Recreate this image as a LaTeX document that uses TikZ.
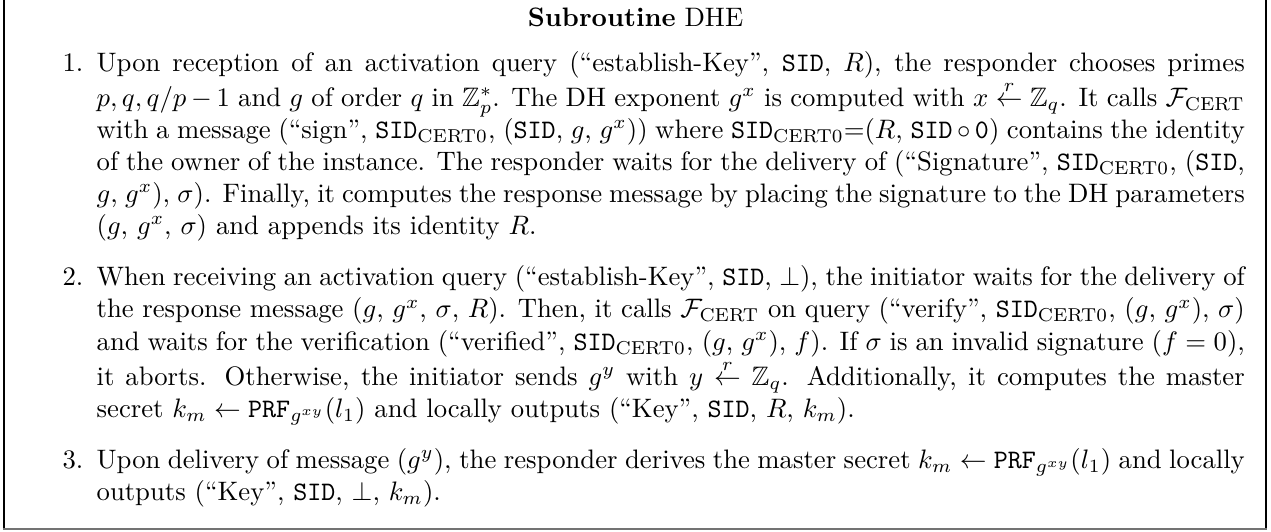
\documentclass[tikz,border=0pt]{standalone}
\usepackage{amsmath,amssymb}
\usetikzlibrary{positioning}

\newcommand{\sid}{\texttt{SID}}
\newcommand{\sidcert}{\texttt{SID}$_{\mathrm{CERT0}}$}
\newcommand{\fcert}{$\mathcal{F}_{\mathrm{CERT}}$}
\newcommand{\rndfrom}{\stackrel{r}{\leftarrow}}

\begin{document}
\begin{tikzpicture}
        % Define styles
        \tikzset{
            frame/.style={draw, line width=0.6pt},
            frameb/.style={draw=black!55, line width=0.9pt},
            heading/.style={inner sep=0pt, anchor=base},
            steps/.style={inner sep=0pt, anchor=base west}
        }
        % Page size (proportions of the original)
        \useasboundingbox (0pt,0pt) rectangle (476pt,198.9pt);
        % Frame: the top edge is cut off in the original
        \draw[frame] (1.5pt,198.9pt) -- (1.5pt,0.8pt);
        \draw[frame] (474.2pt,198.9pt) -- (474.2pt,0.8pt);
        \draw[frameb] (1.2pt,0.8pt) -- (474.5pt,0.8pt);
        % Title
        \node[heading] (title) at (238pt,189pt) {\textbf{Subroutine} DHE};
        % The three steps
        \node[steps] (body) at (11pt,172.2pt) {%
            \begin{minipage}[t]{455pt}
            \begin{enumerate}\setlength{\itemsep}{3.2pt}
            \item Upon reception of an activation query (``establish-Key'', \sid, $R$), the responder chooses primes $p, q, q/p-1$ and $g$ of order $q$ in $\mathbb{Z}_p^*$. The DH exponent $g^x$ is computed with $x \rndfrom \mathbb{Z}_q$. It calls \fcert{} with a message (``sign'', \sidcert, (\sid, $g$, $g^x$)) where \sidcert=($R$, \sid$\,\circ\,$\texttt{0}) contains the identity of the owner of the instance. The responder waits for the delivery of (``Signature'', \sidcert, (\sid, $g$, $g^x$), $\sigma$). Finally, it computes the response message by placing the signature to the DH parameters ($g$, $g^x$, $\sigma$) and appends its identity $R$.
            \item When receiving an activation query (``establish-Key'', \sid, $\perp$), the initiator waits for the delivery of the response message ($g$, $g^x$, $\sigma$, $R$). Then, it calls \fcert{} on query (``verify'', \sidcert, ($g$, $g^x$), $\sigma$) and waits for the verification (``verified'', \sidcert, ($g$, $g^x$), $f$). If $\sigma$ is an invalid signature ($f=0$), it aborts. Otherwise, the initiator sends $g^y$ with $y \rndfrom \mathbb{Z}_q$. Additionally, it computes the master secret $k_m \leftarrow \texttt{PRF}_{g^{xy}}(l_1)$ and locally outputs (``Key'', \sid, $R$, $k_m$).
            \item Upon delivery of message ($g^y$), the responder derives the master secret $k_m \leftarrow \texttt{PRF}_{g^{xy}}(l_1)$ and locally outputs (``Key'', \sid, $\perp$, $k_m$).
            \end{enumerate}
            \end{minipage}};
\end{tikzpicture}
\end{document}
